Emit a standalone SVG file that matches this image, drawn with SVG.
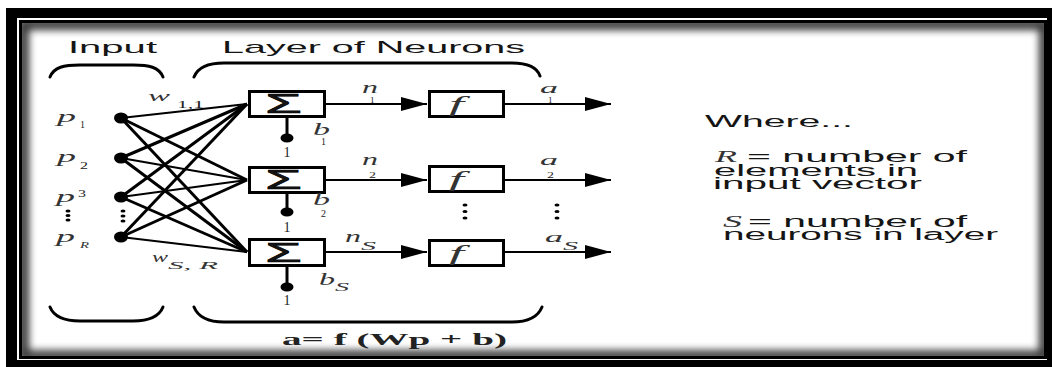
<svg xmlns="http://www.w3.org/2000/svg" width="1052" height="367" viewBox="0 0 1052 367">
<style>
.sans{font-family:"Liberation Sans",Arial,sans-serif;fill:#151515}
.ser{font-family:"Liberation Serif","Times New Roman",serif;fill:#222}
.it{font-style:italic;fill:#333}
.box{fill:#fff;stroke:#000;stroke-width:3}
.w{stroke:#000;fill:none}
.brace{stroke:#000;stroke-width:3;fill:none;stroke-linecap:round}
.dot{fill:#000}
</style>
<defs>
<marker id="arr" markerUnits="userSpaceOnUse" markerWidth="27" markerHeight="15" refX="26" refY="7.5" orient="auto">
<path d="M0,0.5 L26,7.5 L0,14.5 z" fill="#000"/>
</marker>
<clipPath id="inner"><rect x="22" y="23" width="1022" height="333"/></clipPath>
<filter id="blur" x="-5%" y="-5%" width="110%" height="110%"><feGaussianBlur stdDeviation="4"/></filter>
</defs>
<g id="frame">
<rect x="0" y="0" width="1052" height="367" fill="#fff"/>
<rect x="6" y="8" width="1046" height="359" fill="#000"/>
<rect x="17" y="18" width="1030" height="342" fill="#fff"/>
<rect x="20.5" y="21.5" width="1025" height="336" fill="#fff" stroke="#000" stroke-width="3"/>
<g clip-path="url(#inner)">
<rect x="24" y="25" width="1020" height="330" fill="none" stroke="#000" stroke-width="8" filter="url(#blur)" opacity="0.7"/>
<rect x="22" y="23" width="1024" height="335" fill="none" stroke="#000" stroke-width="10" filter="url(#blur)" opacity="0.5"/>
</g>
</g>
<text class="sans" x="68" y="53" font-size="17" textLength="89" lengthAdjust="spacingAndGlyphs">Input</text>
<text class="sans" x="222" y="53" font-size="17" textLength="303" lengthAdjust="spacingAndGlyphs">Layer of Neurons</text>
<g id="braces">
<path class="brace" d="M50,77 C54,67 64,65 80,65 L133,65 C149,65 159,67 163,77"/>
<path class="brace" d="M194,77 C198,67 208,63 224,63 L512,63 C528,63 537,67 540,76"/>
<path class="brace" d="M50,307 C54,317 64,321 80,321 L133,321 C149,321 159,317 163,307"/>
<path class="brace" d="M194,307 C198,317 208,322 224,322 L512,322 C528,322 538,317 542,307"/>
</g>
<g id="connectors">
<line class="w" stroke-width="2" x1="121" y1="118" x2="247" y2="104"/>
<line class="w" stroke-width="3" x1="121" y1="118" x2="247" y2="180"/>
<line class="w" stroke-width="3" x1="121" y1="118" x2="247" y2="252"/>
<line class="w" stroke-width="3" x1="121" y1="158" x2="247" y2="104"/>
<line class="w" stroke-width="2" x1="121" y1="158" x2="247" y2="180"/>
<line class="w" stroke-width="3" x1="121" y1="158" x2="247" y2="252"/>
<line class="w" stroke-width="3" x1="121" y1="197" x2="247" y2="104"/>
<line class="w" stroke-width="2" x1="121" y1="197" x2="247" y2="180"/>
<line class="w" stroke-width="3" x1="121" y1="197" x2="247" y2="252"/>
<line class="w" stroke-width="3" x1="121" y1="237" x2="247" y2="104"/>
<line class="w" stroke-width="3" x1="121" y1="237" x2="247" y2="180"/>
<line class="w" stroke-width="2" x1="121" y1="237" x2="247" y2="252"/>
<line class="w" stroke-width="2" x1="326" y1="104" x2="427" y2="104" marker-end="url(#arr)"/>
<line class="w" stroke-width="2" x1="326" y1="180" x2="427" y2="180" marker-end="url(#arr)"/>
<line class="w" stroke-width="2" x1="326" y1="252" x2="427" y2="252" marker-end="url(#arr)"/>
<line class="w" stroke-width="2" x1="505" y1="104" x2="611" y2="104" marker-end="url(#arr)"/>
<line class="w" stroke-width="2" x1="505" y1="180" x2="611" y2="180" marker-end="url(#arr)"/>
<line class="w" stroke-width="2" x1="505" y1="252" x2="611" y2="252" marker-end="url(#arr)"/>
<line class="w" stroke-width="3" x1="287" y1="118" x2="287" y2="136"/>
<line class="w" stroke-width="3" x1="287" y1="194" x2="287" y2="210"/>
<line class="w" stroke-width="3" x1="287" y1="266" x2="287" y2="285"/>
</g>
<g id="input-p1"><ellipse class="dot" cx="121" cy="118" rx="7" ry="5.5"/>
<text class="ser it" x="57" y="122" font-size="16" textLength="19" lengthAdjust="spacingAndGlyphs">p</text>
<text class="ser" x="80" y="128" font-size="10">1</text></g>
<g id="input-p2"><ellipse class="dot" cx="121" cy="158" rx="7" ry="5.5"/>
<text class="ser it" x="57" y="162" font-size="16" textLength="19" lengthAdjust="spacingAndGlyphs">p</text>
<text class="ser" x="80" y="169" font-size="10" textLength="8" lengthAdjust="spacingAndGlyphs">2</text></g>
<g id="input-p3"><ellipse class="dot" cx="121" cy="197" rx="7" ry="5.5"/>
<text class="ser it" x="56" y="202" font-size="16" textLength="19" lengthAdjust="spacingAndGlyphs">p</text>
<text class="ser" x="78" y="197" font-size="10" textLength="8" lengthAdjust="spacingAndGlyphs">3</text></g>
<g id="input-pR"><ellipse class="dot" cx="121" cy="237" rx="7" ry="5.5"/>
<text class="ser it" x="56" y="242" font-size="16" textLength="19" lengthAdjust="spacingAndGlyphs">p</text>
<text class="ser it" x="80" y="248" font-size="9" textLength="9" lengthAdjust="spacingAndGlyphs">R</text></g>
<g id="vdots">
<ellipse class="dot" cx="68" cy="211" rx="2.5" ry="1.6"/><ellipse class="dot" cx="68" cy="215.5" rx="2.5" ry="1.6"/><ellipse class="dot" cx="68" cy="220" rx="2.5" ry="1.6"/>
<ellipse class="dot" cx="123" cy="211" rx="2.5" ry="1.6"/><ellipse class="dot" cx="123" cy="216" rx="2.5" ry="1.6"/><ellipse class="dot" cx="123" cy="221" rx="2.5" ry="1.6"/>
<ellipse class="dot" cx="465" cy="205" rx="2.5" ry="1.6"/><ellipse class="dot" cx="465" cy="211.5" rx="2.5" ry="1.6"/><ellipse class="dot" cx="465" cy="218" rx="2.5" ry="1.6"/>
<ellipse class="dot" cx="557" cy="205" rx="2.5" ry="1.6"/><ellipse class="dot" cx="557" cy="211.5" rx="2.5" ry="1.6"/><ellipse class="dot" cx="557" cy="218" rx="2.5" ry="1.6"/>
</g>
<text class="ser it" x="148" y="101" font-size="15" textLength="22" lengthAdjust="spacingAndGlyphs">w</text>
<text class="ser" x="177" y="108" font-size="10" textLength="27" lengthAdjust="spacingAndGlyphs">1,1</text>
<text class="ser it" x="152" y="262" font-size="14" textLength="16" lengthAdjust="spacingAndGlyphs">w</text>
<text class="ser it" x="168" y="269" font-size="10" textLength="50" lengthAdjust="spacingAndGlyphs">S, R</text>
<g id="sum1"><rect class="box" x="249.5" y="91.5" width="75" height="25"/>
<text class="sans" x="265" y="113" font-size="27" stroke="#000" stroke-width="0.6" textLength="37" lengthAdjust="spacingAndGlyphs">Σ</text></g>
<g id="sum2"><rect class="box" x="249.5" y="167.5" width="75" height="25"/>
<text class="sans" x="265" y="189" font-size="27" stroke="#000" stroke-width="0.6" textLength="37" lengthAdjust="spacingAndGlyphs">Σ</text></g>
<g id="sum3"><rect class="box" x="249.5" y="239.5" width="75" height="26"/>
<text class="sans" x="265" y="262" font-size="27" stroke="#000" stroke-width="0.6" textLength="37" lengthAdjust="spacingAndGlyphs">Σ</text></g>
<g id="bias1"><ellipse class="dot" cx="287" cy="138" rx="6.5" ry="4.5"/>
<text class="ser" x="287" y="157" font-size="14" text-anchor="middle">1</text>
<text class="ser it" x="313" y="135" font-size="17" textLength="17" lengthAdjust="spacingAndGlyphs">b</text>
<text class="ser" x="321" y="145" font-size="10">1</text></g>
<g id="bias2"><ellipse class="dot" cx="287" cy="212" rx="6.5" ry="4.5"/>
<text class="ser" x="287" y="232" font-size="14" text-anchor="middle">1</text>
<text class="ser it" x="313" y="205" font-size="17" textLength="17" lengthAdjust="spacingAndGlyphs">b</text>
<text class="ser" x="321" y="217" font-size="10">2</text></g>
<g id="bias3"><ellipse class="dot" cx="287" cy="287" rx="6.5" ry="4.5"/>
<text class="ser" x="287" y="305" font-size="14" text-anchor="middle">1</text>
<text class="ser it" x="319" y="285" font-size="17" textLength="16" lengthAdjust="spacingAndGlyphs">b</text>
<text class="ser it" x="335" y="291" font-size="13" textLength="14" lengthAdjust="spacingAndGlyphs">S</text></g>
<text class="ser it" x="362" y="93" font-size="16" textLength="16" lengthAdjust="spacingAndGlyphs">n</text>
<text class="ser" x="370" y="103" font-size="9">1</text>
<text class="ser it" x="362" y="165" font-size="16" textLength="16" lengthAdjust="spacingAndGlyphs">n</text>
<text class="ser" x="369" y="178" font-size="9" textLength="7" lengthAdjust="spacingAndGlyphs">2</text>
<text class="ser it" x="345" y="242" font-size="16" textLength="16" lengthAdjust="spacingAndGlyphs">n</text>
<text class="ser it" x="361" y="250" font-size="13" textLength="15" lengthAdjust="spacingAndGlyphs">S</text>
<g id="f1"><rect class="box" x="429.5" y="91.5" width="74" height="25"/>
<text class="ser it" x="449" y="111" font-size="20" textLength="15" lengthAdjust="spacingAndGlyphs">f</text></g>
<g id="f2"><rect class="box" x="429.5" y="166.5" width="74" height="25"/>
<text class="ser it" x="449" y="186" font-size="20" textLength="15" lengthAdjust="spacingAndGlyphs">f</text></g>
<g id="f3"><rect class="box" x="429.5" y="240.5" width="74" height="25"/>
<text class="ser it" x="449" y="260" font-size="20" textLength="15" lengthAdjust="spacingAndGlyphs">f</text></g>
<text class="ser it" x="540" y="93" font-size="15" textLength="18" lengthAdjust="spacingAndGlyphs">a</text>
<text class="ser" x="548" y="103" font-size="9">1</text>
<text class="ser it" x="540" y="165" font-size="15" textLength="18" lengthAdjust="spacingAndGlyphs">a</text>
<text class="ser" x="547" y="178" font-size="9" textLength="7" lengthAdjust="spacingAndGlyphs">2</text>
<text class="ser it" x="545" y="242" font-size="15" textLength="18" lengthAdjust="spacingAndGlyphs">a</text>
<text class="ser it" x="563" y="250" font-size="13" textLength="15" lengthAdjust="spacingAndGlyphs">S</text>
<text class="ser" x="282" y="345" font-size="17" font-weight="bold" textLength="225" lengthAdjust="spacingAndGlyphs">a= f (Wp + b)</text>
<g id="legend">
<text class="sans" x="705" y="127" font-size="17" textLength="148" lengthAdjust="spacingAndGlyphs">Where...</text>
<text class="ser it" x="715" y="162" font-size="16" textLength="22" lengthAdjust="spacingAndGlyphs">R</text>
<text class="sans" x="747" y="162" font-size="16" textLength="220" lengthAdjust="spacingAndGlyphs">= number of</text>
<text class="sans" x="714" y="175.5" font-size="16" textLength="204" lengthAdjust="spacingAndGlyphs">elements in</text>
<text class="sans" x="713" y="189" font-size="16" textLength="209" lengthAdjust="spacingAndGlyphs">input vector</text>
<text class="ser it" x="723" y="227" font-size="16" textLength="19" lengthAdjust="spacingAndGlyphs">S</text>
<text class="sans" x="748" y="227" font-size="16" textLength="219" lengthAdjust="spacingAndGlyphs">= number of</text>
<text class="sans" x="723" y="240" font-size="16" textLength="275" lengthAdjust="spacingAndGlyphs">neurons in layer</text>
</g>
</svg>
